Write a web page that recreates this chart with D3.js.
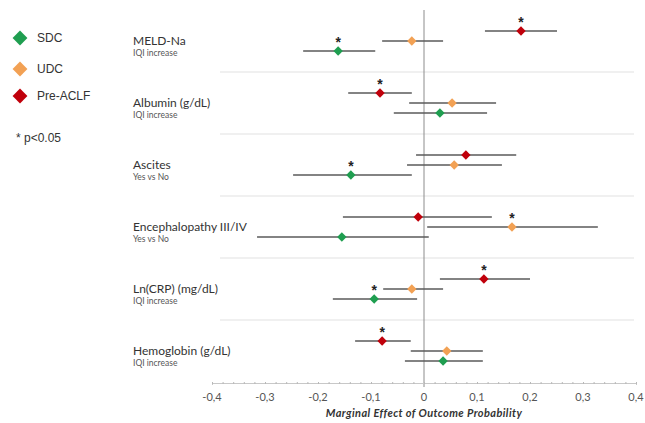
<!DOCTYPE html>
<html>
<head>
<meta charset="utf-8">
<script src="https://cdn.jsdelivr.net/npm/d3@7"></script>
<style>
  body { margin: 0; background: #fff; }
  svg { display: block; }
</style>
</head>
<body>
<svg id="chart" width="645" height="423"></svg>
<script>
// rows of the forest plot, top to bottom
var variables = ['MELD-Na', 'Albumin (g/dL)', 'Ascites', 'Encephalopathy III/IV', 'Ln(CRP) (mg/dL)', 'Hemoglobin (g/dL)'];
var subLabels = ['IQI increase', 'IQI increase', 'Yes vs No', 'Yes vs No', 'IQI increase', 'IQI increase'];

var groups = ['Pre-ACLF', 'UDC', 'SDC'];
var legendOrder = ['SDC', 'UDC', 'Pre-ACLF'];

// marginal effects and 95% CI, one value per variable
var preAclfEst  = [0.183, -0.083, 0.079, -0.011, 0.113, -0.079];
var preAclfLow  = [0.115, -0.143, -0.015, -0.153, 0.030, -0.130];
var preAclfHigh = [0.251, -0.023, 0.174, 0.128, 0.200, -0.025];

var udcEst  = [-0.023, 0.053, 0.057, 0.166, -0.023, 0.043];
var udcLow  = [-0.079, -0.028, -0.032, 0.006, -0.077, -0.025];
var udcHigh = [0.036, 0.136, 0.147, 0.328, 0.036, 0.111];

var sdcEst  = [-0.162, 0.030, -0.138, -0.155, -0.094, 0.036];
var sdcLow  = [-0.228, -0.057, -0.247, -0.315, -0.172, -0.036];
var sdcHigh = [-0.092, 0.119, -0.023, 0.009, -0.013, 0.111];

// p<0.05 flags
var preAclfSig = [true, true, false, false, true, true];
var udcSig     = [false, false, false, true, false, false];
var sdcSig     = [true, false, true, false, true, false];

var xTicks = [-0.4, -0.3, -0.2, -0.1, 0, 0.1, 0.2, 0.3, 0.4];

var colors = { 'SDC': '#1f9e50', 'UDC': '#f2a154', 'Pre-ACLF': '#c0000b' };

// build points
var points = [];
variables.forEach(function(v, i) {
    points.push({ variable: v, group: 'Pre-ACLF', est: preAclfEst[i], low: preAclfLow[i], high: preAclfHigh[i], sig: preAclfSig[i] });
    points.push({ variable: v, group: 'UDC', est: udcEst[i], low: udcLow[i], high: udcHigh[i], sig: udcSig[i] });
    points.push({ variable: v, group: 'SDC', est: sdcEst[i], low: sdcLow[i], high: sdcHigh[i], sig: sdcSig[i] });
});

var svg = d3.select('#chart');

var xScale = d3.scaleLinear()
    .domain([-0.4, 0.4])
    .range([212, 636]);

var yBand = d3.scaleBand()
    .domain(variables)
    .range([10, 382]);

var yInner = d3.scalePoint()
    .domain(groups)
    .range([-10, 10]);

function yPos(d) {
    return yBand(d.variable) + yBand.bandwidth() / 2 + yInner(d.group);
}

// row separators
svg.append('g')
    .selectAll('line')
    .data(variables.slice(1))
    .enter().append('line')
    .attr('x1', 220)
    .attr('x2', 634)
    .attr('y1', function(d) { return yBand(d); })
    .attr('y2', function(d) { return yBand(d); })
    .attr('stroke', '#e2e2e2')
    .attr('stroke-width', 1.2);

// zero line
svg.append('line')
    .attr('x1', xScale(0))
    .attr('x2', xScale(0))
    .attr('y1', 10)
    .attr('y2', 387)
    .attr('stroke', '#8c8c8c')
    .attr('stroke-width', 1);

// x axis
var axis = svg.append('g')
    .attr('transform', 'translate(0,383)')
    .call(d3.axisBottom(xScale)
        .tickValues(d3.range(-0.4, 0.401, 0.02))
        .tickSize(2)
        .tickFormat(''));
axis.select('.domain').attr('stroke', '#c8c8c8');
axis.selectAll('.tick line').attr('stroke', '#b8b8b8').attr('transform', 'translate(0,-1)');

svg.append('g')
    .selectAll('text')
    .data(xTicks)
    .enter().append('text')
    .attr('x', function(d) { return xScale(d); })
    .attr('y', 401)
    .attr('text-anchor', 'middle')
    .attr('font-family', 'Lato, "Open Sans", sans-serif')
    .attr('font-size', 11)
    .attr('fill', '#555')
    .text(function(d) { return d3.format('.1~f')(d).replace('.', ',').replace('−', '-'); });

svg.append('text')
    .attr('x', xScale(0))
    .attr('y', 417)
    .attr('text-anchor', 'middle')
    .attr('font-family', 'Lato, "Open Sans", sans-serif')
    .attr('font-size', 11)
    .attr('font-weight', 'bold')
    .attr('font-style', 'italic')
    .attr('letter-spacing', 0.4)
    .attr('fill', '#333')
    .text('Marginal Effect of Outcome Probability');

// row labels
var labels = svg.append('g');
labels.selectAll('text.main')
    .data(variables)
    .enter().append('text')
    .attr('class', 'main')
    .attr('x', 133)
    .attr('y', function(d) { return yBand(d) + yBand.bandwidth() / 2 + 4; })
    .attr('font-family', 'Lato, "Open Sans", sans-serif')
    .attr('font-size', 12)
    .attr('fill', '#333')
    .text(function(d) { return d; });

labels.selectAll('text.sub')
    .data(variables)
    .enter().append('text')
    .attr('class', 'sub')
    .attr('x', 133)
    .attr('y', function(d) { return yBand(d) + yBand.bandwidth() / 2 + 15; })
    .attr('font-family', 'Lato, "Open Sans", sans-serif')
    .attr('font-size', 8.5)
    .attr('fill', '#555')
    .text(function(d, i) { return subLabels[i]; });

// confidence intervals
svg.append('g')
    .selectAll('line')
    .data(points)
    .enter().append('line')
    .attr('x1', function(d) { return xScale(d.low); })
    .attr('x2', function(d) { return xScale(d.high); })
    .attr('y1', yPos)
    .attr('y2', yPos)
    .attr('stroke', '#5a5a5a')
    .attr('stroke-width', 1.3);

// diamonds
var diamond = d3.symbol().type(d3.symbolDiamond2).size(56);
svg.append('g')
    .selectAll('path')
    .data(points)
    .enter().append('path')
    .attr('d', diamond)
    .attr('transform', function(d) { return 'translate(' + xScale(d.est) + ',' + yPos(d) + ')'; })
    .attr('fill', function(d) { return colors[d.group]; });

// significance stars
svg.append('g')
    .selectAll('text')
    .data(points.filter(function(d) { return d.sig; }))
    .enter().append('text')
    .attr('x', function(d) { return xScale(d.est); })
    .attr('y', function(d) { return yPos(d) - 4; })
    .attr('text-anchor', 'middle')
    .attr('font-family', 'Arial, "Liberation Sans", sans-serif')
    .attr('font-size', 14)
    .attr('font-weight', 'bold')
    .attr('fill', '#222')
    .text('*');

// legend
var legend = svg.append('g');
var legendY = [38, 69, 96];
var legendDiamond = d3.symbol().type(d3.symbolDiamond2).size(140);
legendOrder.forEach(function(g, i) {
    legend.append('path')
        .attr('d', legendDiamond)
        .attr('transform', 'translate(20,' + legendY[i] + ')')
        .attr('fill', colors[g]);
    legend.append('text')
        .attr('x', 37)
        .attr('y', legendY[i] + 4)
        .attr('font-family', 'Arial, "Liberation Sans", sans-serif')
        .attr('font-size', 12)
        .attr('fill', '#333')
        .text(g);
});
legend.append('text')
    .attr('x', 16)
    .attr('y', 142)
    .attr('font-family', 'Arial, "Liberation Sans", sans-serif')
    .attr('font-size', 12)
    .attr('fill', '#333')
    .text('* p<0.05');
</script>
</body>
</html>
